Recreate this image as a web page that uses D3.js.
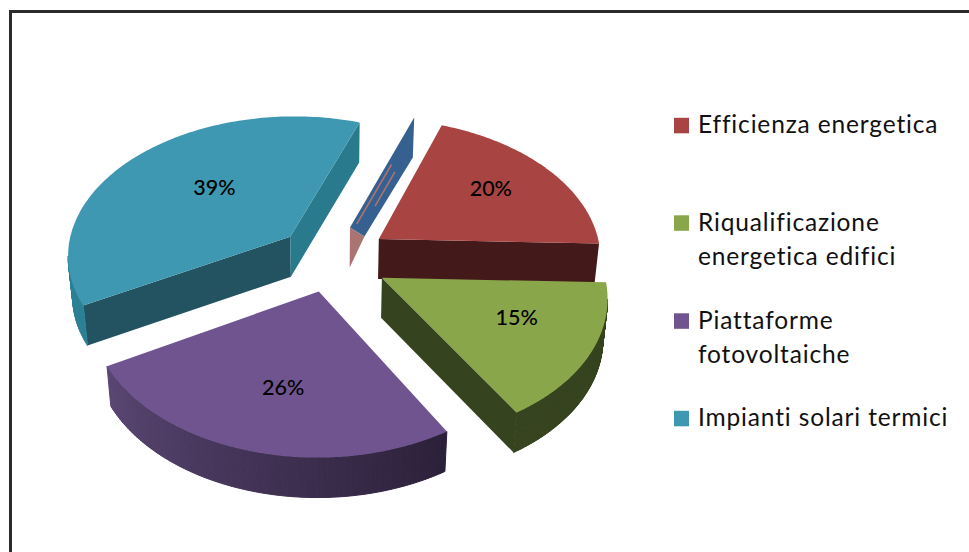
<!DOCTYPE html>
<html><head><meta charset="utf-8">
<script src="https://cdn.jsdelivr.net/npm/d3@7"></script>
<style>html,body{margin:0;padding:0;background:#fff;overflow:hidden}svg{display:block}</style>
</head><body><svg id="c" width="969" height="552"></svg>
<script>
const categories = ["Efficienza energetica","Riqualificazione energetica edifici","Piattaforme fotovoltaiche","Impianti solari termici",""];
const values = [20,15,26,39,0.2];
const labels = ["20%","15%","26%","39%",""];
const legendLines = [["Efficienza energetica"],["Riqualificazione","energetica edifici"],["Piattaforme","fotovoltaiche"],["Impianti solari termici"]];
const topColors = ["#A84442","#8AA64B","#6F5490","#3E98B1","#35608F"];
const cutStart = ["#431a19","#36431f","#2b2039","#235360","#a97472"];
const cutEnd = ["#431a19","#36431f","#2b2039","#2a7a8e","#35608F"];
const wallFrom = ["#431a19","#36431f","#2b2039","#2b8094","#35608F"];
const wallTo = ["#431a19","#36431f","#5a4673","#2b8094","#35608F"];
const labelTheta = [54,115,193,316,0];
const labelRadius = [150,140,138,119,0];
const drawOrder = [3,4,0,1,2];
// layout tuning per slice: radius, screen nudge, and angle nudges for the foreshortened front edge
const sliceRadius = [223,220,220,224,220];
const nudgeX = [-1,-2,-4,-3,-3];
const nudgeY = [1,4,0,1,2];
const startNudge = [0,0,3.5,2,0];
const endNudge = [0,3,2,0,0];

const W=969,H=552, EXPLODE=55, KY=0.624, PERSP=0.000542, DEPTH=40, BOTTOM_X=0.983, CX=335, CY=257;
const toRad=Math.PI/180;
const svg=d3.select("#c");
svg.append("path").attr("d",d3.line()([[W+5,11.5],[10.5,11.5],[10.5,H+5]]))
  .attr("fill","none").attr("stroke","#2b2b2b").attr("stroke-width",3);

const pie=d3.pie().sort(null).startAngle(20*toRad).endAngle(380*toRad);
const arcs=pie(values);
const polyLine=d3.line();

function project(u,v,z){
  const s=1/(1+v*PERSP);
  const xs=z>0?BOTTOM_X:1;
  return [CX+u*s*xs, CY-v*KY*s+z];
}
arcs.forEach((a,i)=>{
  a.mid=(a.startAngle+a.endAngle)/2;
  a.ou=EXPLODE*Math.sin(a.mid);a.ov=EXPLODE*Math.cos(a.mid);
  a.i=i;
  a.t0=a.startAngle+startNudge[i]*toRad;
  a.t1=a.endAngle+endNudge[i]*toRad;
});
const pt=(a,theta,r,z)=>{
  const p=project(a.ou+r*Math.sin(theta),a.ov+r*Math.cos(theta),z);
  return [p[0]+nudgeX[a.i],p[1]+nudgeY[a.i]];
};
function quad(p,q,z){return [p(0),q(0),q(z),p(z)];}

const g=svg.append("g");
drawOrder.forEach(i=>{
  const a=arcs[i], R=sliceRadius[i];
  const thetas=d3.range(0,121).map(k=>a.t0+(a.t1-a.t0)*k/120);
  const apex=z=>pt(a,0,0,z), p0=z=>pt(a,a.t0,R,z), p1=z=>pt(a,a.t1,R,z);
  if(i===4){
    const ap=apex(0), ot=p1(0), ob=p1(DEPTH), ab=apex(DEPTH);
    const notch=[ap[0]+0.23*(ob[0]-ap[0]),ap[1]+9];
    g.append("path").attr("d",polyLine([ap,ot,ob,notch])+"Z").attr("fill",topColors[4]);
    g.append("path").attr("d",polyLine([ap,notch,ab])+"Z").attr("fill",cutStart[4]);
    [[0.06,0.6,0,0],[0.25,0.56,6,3]].forEach(([f0,f1,dx,dy])=>{
      const l=f=>[ap[0]+f*(ot[0]-ap[0])+dx+3,ap[1]+f*(ot[1]-ap[1])+dy+3];
      g.append("path").attr("d",polyLine([l(f0),l(f1)])).attr("stroke",cutStart[4]).attr("stroke-width",1.6).attr("fill","none");
    });
    return;
  }
  if(p0(0)[0]-apex(0)[0]<0) g.append("path").attr("d",polyLine(quad(apex,p0,DEPTH))+"Z").attr("fill",cutStart[i]);
  if(p1(0)[0]-apex(0)[0]>0) g.append("path").attr("d",polyLine(quad(apex,p1,DEPTH))+"Z").attr("fill",cutEnd[i]);
  const shade=d3.scaleLinear().domain([0,120]).range([wallFrom[i],wallTo[i]]);
  d3.pairs(thetas).forEach(([t0,t1],k)=>{
    const A=z=>pt(a,t0,R,z),B=z=>pt(a,t1,R,z);
    if(B(0)[0]-A(0)[0]<0){
      g.append("path").attr("d",polyLine(quad(A,B,DEPTH))+"Z").attr("fill",shade(k)).attr("stroke",shade(k)).attr("stroke-width",1);
    }
  });
  const pts=[apex(0),...thetas.map(t=>pt(a,t,R,0))];
  g.append("path").attr("d",polyLine(pts)+"Z").attr("fill",topColors[i]);
});

arcs.forEach((a,i)=>{
  if(!labels[i]) return;
  const p=pt(a,labelTheta[i]*toRad,labelRadius[i],0);
  svg.append("text").attr("x",p[0]).attr("y",p[1]).attr("dy","0.36em").attr("text-anchor","middle")
    .attr("font-family","Lato, 'Open Sans', sans-serif").attr("font-size",21.5).attr("font-weight",500).attr("fill","#000").text(labels[i]);
});

const legendTop=[125.5,223,321,418.5];
legendLines.forEach((lines,i)=>{
  svg.append("rect").attr("x",674).attr("y",legendTop[i]-7.7).attr("width",15).attr("height",15.5).attr("fill",topColors[i]);
  lines.forEach((t,j)=>{
    svg.append("text").attr("x",698).attr("y",legendTop[i]+7.5+j*34)
      .attr("font-family","Lato, 'Open Sans', sans-serif").attr("font-size",24.5).attr("letter-spacing",0.85).attr("fill","#111").text(t);
  });
});
</script></body></html>
